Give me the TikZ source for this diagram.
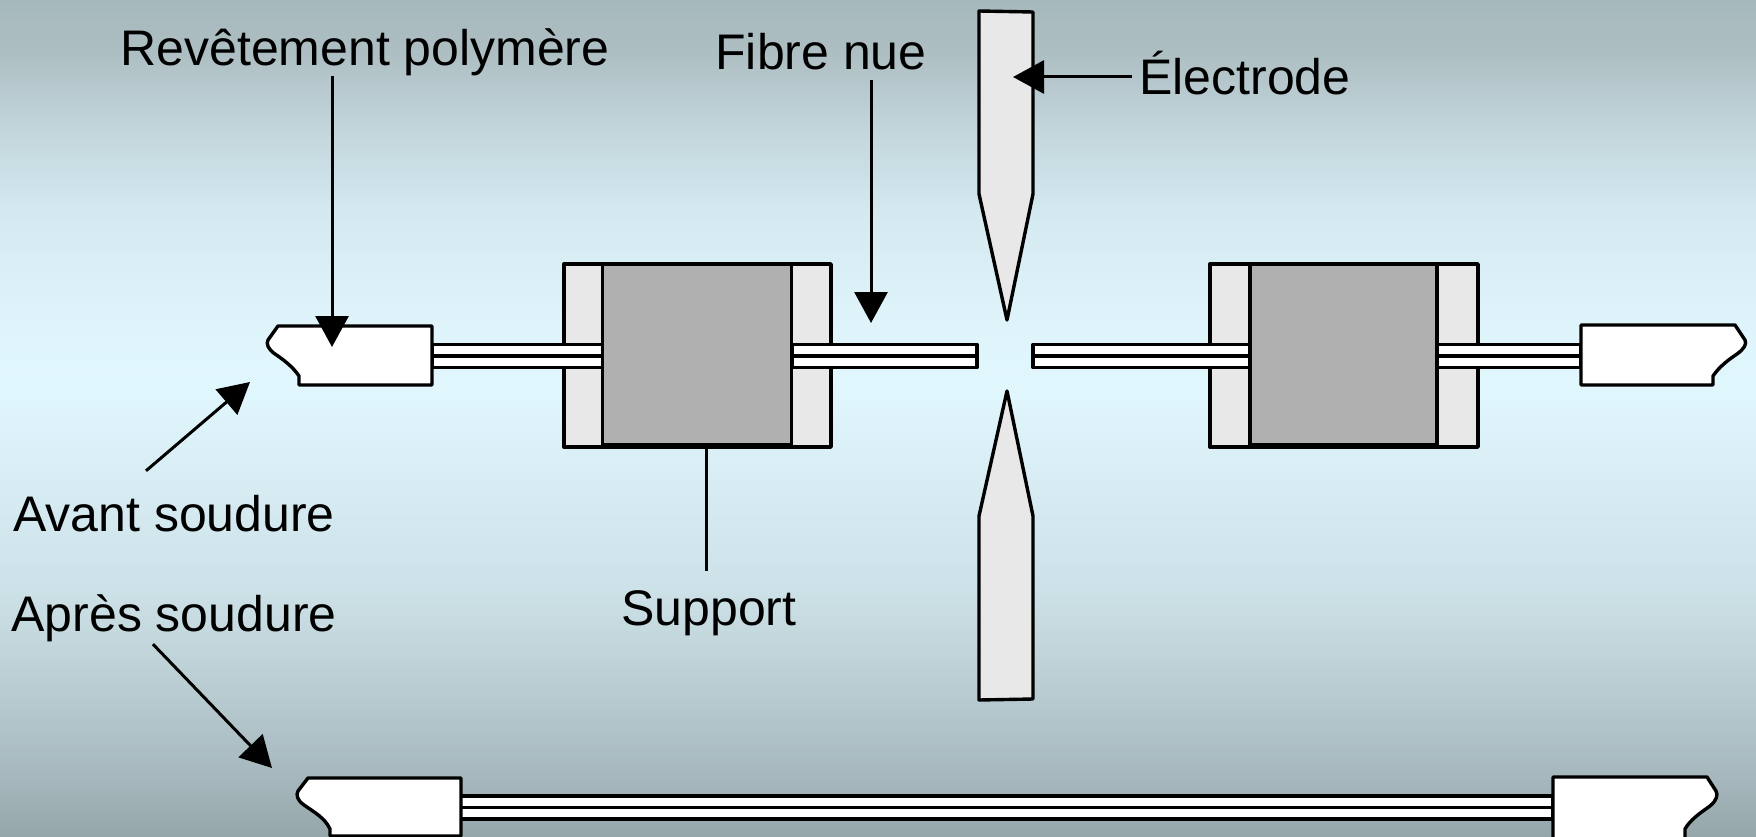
\documentclass[tikz,border=0pt]{standalone}
\usepackage{fontspec}
\setmainfont{Liberation Sans}
\usetikzlibrary{arrows.meta}
\definecolor{partgrey}{HTML}{E8E8E8}
\definecolor{coregrey}{HTML}{B0B0B0}
\definecolor{skya}{HTML}{95A6AA}
\definecolor{skyb}{HTML}{A6B8BD}
\definecolor{skyc}{HTML}{B8CBD0}
\definecolor{skyd}{HTML}{CDE2E8}
\definecolor{skye}{HTML}{E0F7FD}
\definecolor{skyf}{HTML}{DEF4FA}
\definecolor{skyg}{HTML}{D4EAF0}
\definecolor{skyh}{HTML}{C3D7DD}
\definecolor{skyi}{HTML}{AEBFC3}
\definecolor{skyj}{HTML}{A5B8BC}
\pgfdeclareverticalshading{skyfade}{100bp}{
  color(0bp)=(skya); color(25bp)=(skya); color(28.6bp)=(skyb); color(33.5bp)=(skyc);
  color(39.9bp)=(skyd); color(52bp)=(skye); color(55.9bp)=(skyf); color(62.2bp)=(skyg);
  color(67bp)=(skyh); color(71.8bp)=(skyi); color(75bp)=(skyj); color(100bp)=(skyj)}
\tikzset{
  part/.style={draw=black, line width=3.4pt, line join=round},
  holder/.style={part, fill=partgrey, minimum width=267pt, minimum height=183pt, inner sep=0pt, outer sep=0pt},
  core/.style={part, fill=coregrey, minimum width=189pt, minimum height=181pt, inner sep=0pt, outer sep=0pt},
  caption/.style={font=\fontsize{50}{60}\selectfont, anchor=base, inner sep=0pt, text depth=10pt},
  pointer/.style={draw=black, line width=3pt, -{Triangle[width=33pt,length=31pt]}},
}
\begin{document}
\begin{tikzpicture}[x=1pt,y=-1pt]
\useasboundingbox (0,0) rectangle (1756,837);
\shade[shading=skyfade] (0,0) rectangle (1756,837);
% supports
\node[holder] (holderL) at (697.5,355.5) {};
\node[holder, minimum width=268pt] (holderR) at (1344,355.5) {};
% fibres
\foreach \xa/\xb/\ym in {432/603/356,792/977/356,1033/1250/356,1437/1581/356,460/1553/807.5} {
  \filldraw[part, fill=white] (\xa,\ym-11.5) rectangle (\xb,\ym+11.5);
  \draw[part] (\xa-1,\ym) -- (\xb+1,\ym);
}
\node[core] (coreL) at (697,354.5) {};
\node[core, minimum width=187pt] (coreR) at (1343.5,354.5) {};
% coatings
\filldraw[part, fill=white] (278,326) -- (432,326) -- (432,385) -- (299,385) -- (299,376)
  .. controls (293,367) and (284,360) .. (275,354) .. controls (268,349) and (266,344) .. (268,340) -- cycle;
\filldraw[part, fill=white] (1735,325) -- (1581,325) -- (1581,385) -- (1713,385) -- (1713,376)
  .. controls (1719,367) and (1728,360) .. (1737,354) .. controls (1744,349) and (1747,344) .. (1745,340) -- cycle;
\filldraw[part, fill=white] (308,778) -- (461,778) -- (461,836) -- (330,836) -- (330,829)
  .. controls (325,818) and (314,812) .. (304,805) .. controls (297,800) and (296,795) .. (298,791) -- cycle;
\filldraw[part, fill=white] (1707,777) -- (1553,777) -- (1553,840) -- (1685,840) -- (1685,829)
  .. controls (1690,820) and (1700,813) .. (1710,806) .. controls (1717,800) and (1718,795) .. (1716,791) -- cycle;
% electrodes
\filldraw[part, fill=partgrey] (979,11) -- (1033,12) -- (1033,194) -- (1007,320) -- (979,194) -- cycle;
\filldraw[part, fill=partgrey] (979,700) -- (1033,699) -- (1033,516) -- (1007,391) -- (979,516) -- cycle;
% labels
\node[caption] (polymere) at (365,66) {Revêtement polymère};
\node[caption] (nue) at (821,70) {Fibre nue};
\node[caption, anchor=base west, inner xsep=7pt] (electrode) at (1132,95) {Électrode};
\node[caption, text height=60pt] (avant) at (174,531) {Avant soudure};
\node[caption, text height=55pt, text depth=14pt] (apres) at (174,631) {Après soudure};
\node[caption, text height=54pt] (support) at (709,625) {Support};
% free ends
\coordinate (polymereTip) at (332,347);
\coordinate (nueTip) at (871,323);
\coordinate (electrodeTip) at (1013,77);
\coordinate (avantTip) at (250,382);
\coordinate (apresTip) at (272,768);
% connectors
\draw[pointer] (polymere.south -| polymereTip) -- (polymereTip);
\draw[pointer] (nue.south -| nueTip) -- (nueTip);
\draw[pointer] (electrode.west |- electrodeTip) -- (electrodeTip);
\draw[pointer] ([xshift=-28pt]avant.north) -- (avantTip);
\draw[pointer] ([xshift=-21pt,yshift=1pt]apres.south) -- (apresTip);
\draw[draw=black, line width=3pt] (holderL.south -| support.north) ++(-3,0) -- ([xshift=-3pt]support.north);
\end{tikzpicture}
\end{document}
